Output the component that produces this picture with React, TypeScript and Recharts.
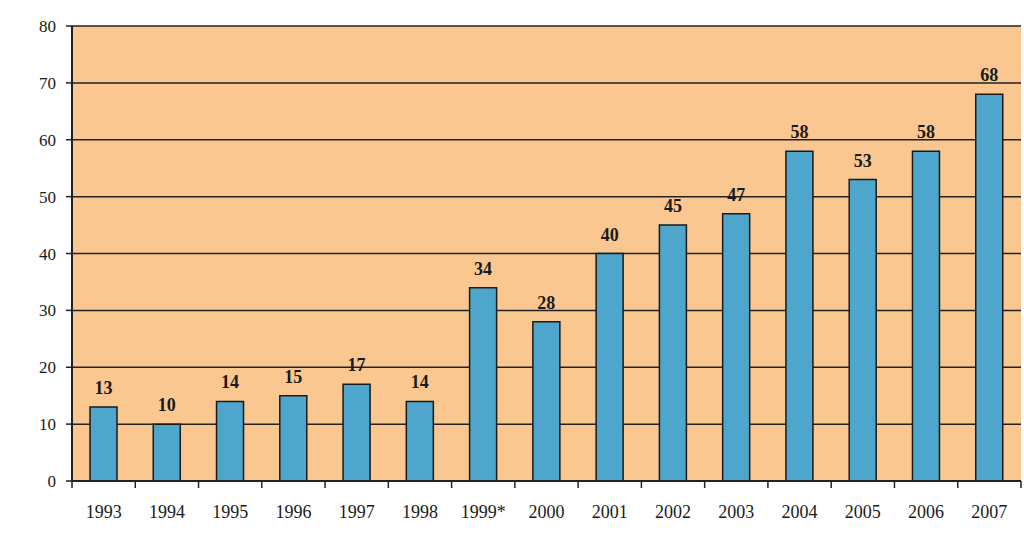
import React from 'react';
import { BarChart, Bar, XAxis, YAxis, CartesianGrid, LabelList } from 'recharts';

const years = ['1993','1994','1995','1996','1997','1998','1999*','2000','2001','2002','2003','2004','2005','2006','2007'];
const values = [13,10,14,15,17,14,34,28,40,45,47,58,53,58,68];
const yTicks = [0,10,20,30,40,50,60,70,80];

const data = years.map((y, i) => ({ year: y, value: values[i] }));

const W = 1024, H = 550;
const LEFT = 72, RIGHT = 3, TOP = 26, XH = 30, BOTTOM = 39;
const plotW = W - LEFT - RIGHT;
const band = plotW / years.length;
const FONT = "'Liberation Serif', 'Times New Roman', serif";

const XTick = (props: any) => {
  const { x, y, payload, index } = props;
  return (
    <g>
      <line x1={x - band / 2} x2={x - band / 2} y1={y - 8} y2={y - 1} stroke="#222" strokeWidth={1.5} />
      {index === years.length - 1 && (
        <line x1={x + band / 2} x2={x + band / 2} y1={y - 8} y2={y - 1} stroke="#222" strokeWidth={1.5} />
      )}
      <text x={x} y={y + 29} textAnchor="middle" fontFamily={FONT} fontSize={18} fill="#1a1a1a">
        {payload.value}
      </text>
    </g>
  );
};

export default function App() {
  return (
    <div style={{ position: 'absolute', left: 0, top: 0, width: W, height: H, background: '#fff' }}>
      <BarChart width={W} height={H} data={data} margin={{ top: TOP, right: RIGHT, left: 0, bottom: BOTTOM }} barSize={27}>
        <CartesianGrid vertical={false} stroke="#222" strokeWidth={1.5} fill="#F9C78F" fillOpacity={1} />
        <XAxis dataKey="year" height={XH} tickLine={false} axisLine={{ stroke: '#222', strokeWidth: 2 }} tick={<XTick />} interval={0} />
        <YAxis width={LEFT} domain={[0, 80]} ticks={yTicks} interval={0} axisLine={{ stroke: '#222', strokeWidth: 2 }}
          tickLine={{ stroke: '#222', strokeWidth: 1.5 }} tickSize={6} tickMargin={10}
          tick={{ fontFamily: FONT, fontSize: 17, fill: '#1a1a1a' }} />
        <Bar dataKey="value" fill="#4EA6CC" stroke="#1a1a1a" strokeWidth={1.5} isAnimationActive={false}>
          <LabelList dataKey="value" position="top" offset={13}
            style={{ fontFamily: FONT, fontSize: 18, fontWeight: 'bold', fill: '#1a1a1a' }} />
        </Bar>
      </BarChart>
    </div>
  );
}
